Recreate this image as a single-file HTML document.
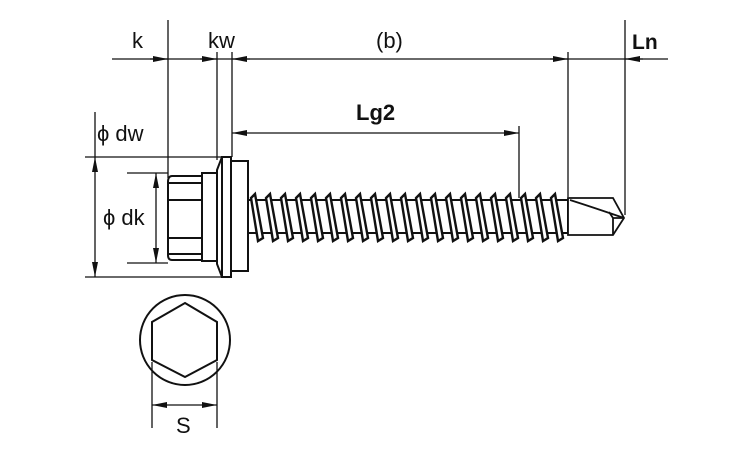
<!DOCTYPE html>
<html><head><meta charset="utf-8"><style>html,body{margin:0;padding:0;background:#fff}</style></head>
<body>
<svg width="750" height="450" viewBox="0 0 750 450" xmlns="http://www.w3.org/2000/svg" font-family="Liberation Sans, sans-serif">
<defs>
<marker id="a" viewBox="0 0 15 6" refX="15" refY="3" markerWidth="15" markerHeight="6" orient="auto-start-reverse" markerUnits="userSpaceOnUse"><path d="M0,0 L15,3 L0,6 Z" fill="#111"/></marker>
</defs>
<g stroke="#111" stroke-width="1.3" fill="none">
<line x1="112" y1="59" x2="668" y2="59"/>
<line x1="150" y1="59" x2="168" y2="59" marker-end="url(#a)"/>
<line x1="200" y1="59" x2="217" y2="59" marker-end="url(#a)"/>
<line x1="250" y1="59" x2="232" y2="59" marker-end="url(#a)"/>
<line x1="550" y1="59" x2="568" y2="59" marker-end="url(#a)"/>
<line x1="643" y1="59" x2="625" y2="59" marker-end="url(#a)"/>
<line x1="168" y1="20" x2="168" y2="178"/>
<line x1="217" y1="52" x2="217" y2="160"/>
<line x1="232" y1="52" x2="232" y2="157"/>
<line x1="568" y1="52" x2="568" y2="197"/>
<line x1="625" y1="20" x2="625" y2="215"/>
<line x1="519" y1="126" x2="519" y2="198"/>
<line x1="232" y1="133" x2="519" y2="133" marker-start="url(#a)" marker-end="url(#a)"/>
<line x1="85" y1="157" x2="221" y2="157"/>
<line x1="85" y1="277" x2="221" y2="277"/>
<line x1="95" y1="112" x2="95" y2="157"/>
<line x1="95" y1="157" x2="95" y2="277" marker-start="url(#a)" marker-end="url(#a)"/>
<line x1="127" y1="173" x2="168" y2="173"/>
<line x1="127" y1="263" x2="168" y2="263"/>
<line x1="156" y1="173" x2="156" y2="263" marker-start="url(#a)" marker-end="url(#a)"/>
</g>
<g stroke="#111" stroke-width="2" fill="#fff">
<path d="M202,176 L172,176 Q168,176 168,182 L168,255 Q168,260 172,260 L202,260 Z"/>
<line x1="169" y1="183" x2="202" y2="183"/>
<line x1="169" y1="200" x2="202" y2="200"/>
<line x1="169" y1="238" x2="202" y2="238"/>
<line x1="169" y1="254" x2="202" y2="254"/>
<rect x="202" y="173" width="15" height="88"/>
<path d="M217,170 L222,157 L222,277 L217,264 Z"/>
<rect x="222" y="157" width="9" height="120"/>
<rect x="231" y="161" width="17" height="110"/>
<rect x="248" y="200" width="320" height="33"/>
</g>
<g stroke="#111" stroke-width="2.4" fill="#fff">
<path d="M251,198 L255,194 L263,238 L258,241 Z"/>
<path d="M266,198 L270,194 L278,238 L273,241 Z"/>
<path d="M281,198 L285,194 L293,238 L288,241 Z"/>
<path d="M296,198 L300,194 L308,238 L303,241 Z"/>
<path d="M311,198 L315,194 L323,238 L318,241 Z"/>
<path d="M326,198 L330,194 L338,238 L333,241 Z"/>
<path d="M341,198 L345,194 L353,238 L348,241 Z"/>
<path d="M356,198 L360,194 L368,238 L363,241 Z"/>
<path d="M371,198 L375,194 L383,238 L378,241 Z"/>
<path d="M386,198 L390,194 L398,238 L393,241 Z"/>
<path d="M401,198 L405,194 L413,238 L408,241 Z"/>
<path d="M416,198 L420,194 L428,238 L423,241 Z"/>
<path d="M431,198 L435,194 L443,238 L438,241 Z"/>
<path d="M446,198 L450,194 L458,238 L453,241 Z"/>
<path d="M461,198 L465,194 L473,238 L468,241 Z"/>
<path d="M476,198 L480,194 L488,238 L483,241 Z"/>
<path d="M491,198 L495,194 L503,238 L498,241 Z"/>
<path d="M506,198 L510,194 L518,238 L513,241 Z"/>
<path d="M521,198 L525,194 L533,238 L528,241 Z"/>
<path d="M536,198 L540,194 L548,238 L543,241 Z"/>
<path d="M551,198 L555,194 L563,238 L558,241 Z"/>
</g>
<g stroke="#111" stroke-width="1.8" fill="#fff">
<path d="M568,198 L613,198 L624,218 L613,235 L568,235 Z"/>
<path d="M570,200 Q595,208 624,218" fill="none"/>
<path d="M613,218 L624,218 M613,218 L613,235 M613,218 L609,212" fill="none"/>
</g>
<g stroke="#111" stroke-width="2" fill="none">
<circle cx="185" cy="340" r="45"/>
<polygon points="185,303 217,322 217,360 185,377 152,360 152,322"/>
</g>
<g stroke="#111" stroke-width="1.3" fill="none">
<line x1="152" y1="362" x2="152" y2="428"/>
<line x1="217" y1="362" x2="217" y2="428"/>
<line x1="152" y1="405" x2="217" y2="405" marker-start="url(#a)" marker-end="url(#a)"/>
</g>
<g fill="#111" font-size="22">
<text x="132" y="48">k</text>
<text x="208" y="48">kw</text>
<text x="376" y="48">(b)</text>
<text x="632" y="49" font-weight="bold" font-size="21">Ln</text>
<text x="356" y="120" font-weight="bold">Lg2</text>
<text x="97" y="141">ϕ dw</text>
<text x="103" y="225">ϕ dk</text>
<text x="176" y="433">S</text>
</g>
</svg>
</body></html>
